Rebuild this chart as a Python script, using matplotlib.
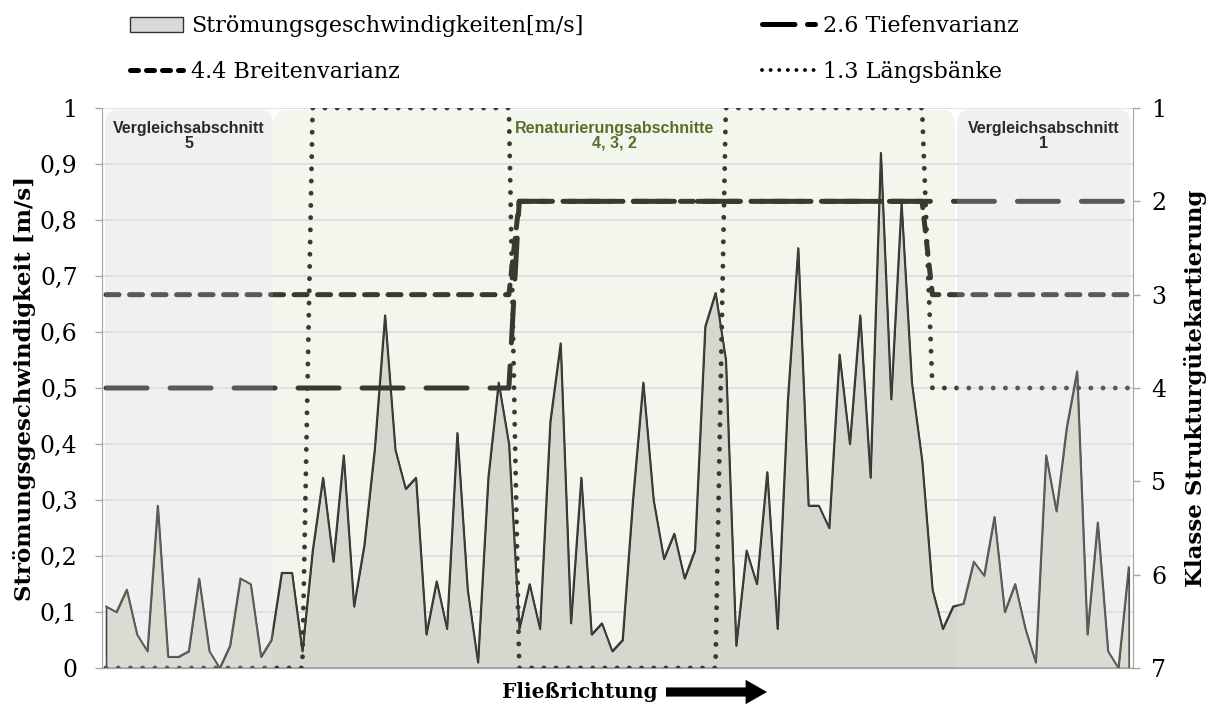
import numpy as np
import matplotlib.pyplot as plt
from matplotlib.patches import FancyBboxPatch, Patch
from matplotlib.lines import Line2D
from matplotlib.transforms import blended_transform_factory


# Strömungsgeschwindigkeiten [m/s], 100 Messpunkte in Fließrichtung
velocity = [
    0.11, 0.10, 0.14, 0.06, 0.03, 0.29, 0.02, 0.02, 0.03, 0.16,
    0.03, 0.00, 0.04, 0.16, 0.15, 0.02, 0.05, 0.17, 0.17, 0.03,
    0.21, 0.34, 0.19, 0.38, 0.11, 0.22, 0.39, 0.63, 0.39, 0.32,
    0.34, 0.06, 0.155, 0.07, 0.42, 0.14, 0.01, 0.34, 0.51, 0.40,
    0.07, 0.15, 0.07, 0.44, 0.58, 0.08, 0.34, 0.06, 0.08, 0.03,
    0.05, 0.30, 0.51, 0.30, 0.195, 0.24, 0.16, 0.21, 0.61, 0.67,
    0.55, 0.04, 0.21, 0.15, 0.35, 0.07, 0.48, 0.75, 0.29, 0.29,
    0.25, 0.56, 0.40, 0.63, 0.34, 0.92, 0.48, 0.83, 0.51, 0.37,
    0.14, 0.07, 0.11, 0.115, 0.19, 0.165, 0.27, 0.10, 0.15, 0.07,
    0.01, 0.38, 0.28, 0.43, 0.53, 0.06, 0.26, 0.03, 0.00, 0.18,
]

# Klassen Strukturgütekartierung je Messpunkt
tiefenvarianz = [4] * 40 + [2] * 60
breitenvarianz = [3] * 40 + [2] * 40 + [3] * 20
laengsbaenke = [7] * 20 + [1] * 20 + [7] * 20 + [1] * 20 + [4] * 20

# Abschnitte (von, bis, Titel)
sections = [
    (-0.1, 16.15, 'Vergleichsabschnitt\n5'),
    (16.2, 82.2, 'Renaturierungsabschnitte\n4, 3, 2'),
    (82.4, 99.2, 'Vergleichsabschnitt\n1'),
]

left_ticks = np.round(np.arange(0, 1.01, 0.1), 1)
right_ticks = [1, 2, 3, 4, 5, 6, 7]

W, H = 1215, 706
line_col = '#383a32'
serif = 'DejaVu Serif'

fig = plt.figure(figsize=(W / 100, H / 100), dpi=100)
ax = fig.add_axes([101.7 / W, 1 - 668 / H, (1133 - 101.7) / W, (668 - 108) / H])
ax2 = ax.twinx()

x = np.arange(len(velocity))
ax.set_xlim(-0.42, len(velocity) - 1 + 0.42)
ax.set_ylim(0, 1)
ax2.set_ylim(7, 1)

# Hintergrund der Abschnitte
aspect = (1 / 560) / (1 / 10.33)
bg_cols = ['#f0f0f0', '#f3f6ec', '#f0f0f0']
for (x0, x1, title), col in zip(sections, bg_cols):
    ax.add_patch(FancyBboxPatch((x0, 0), x1 - x0, 0.997,
                                boxstyle='round,pad=0,rounding_size=1.4',
                                mutation_aspect=aspect, fc=col, ec='none', zorder=0.1))

ax.set_axisbelow(True)
ax.yaxis.grid(True, color='#d9d9d9', lw=1.1)
ax.set_yticks(left_ticks)
ax.set_yticklabels([('%g' % v).replace('.', ',') for v in left_ticks])

ax.fill_between(x, velocity, 0, fc='#d6d8cf', ec='#1c1c1c', lw=1.1, zorder=2)
ax.plot(x, velocity, color='#3d3e38', lw=1.3, zorder=3)

ax2.plot(x, tiefenvarianz, color=line_col, lw=3.6, linestyle=(0, (8.2, 4.6)),
         dash_capstyle='round', zorder=4)
ax2.plot(x, breitenvarianz, color=line_col, lw=3.6, linestyle=(0, (2.6, 2.1)),
         dash_capstyle='round', zorder=4)
ax2.plot(x, laengsbaenke, color=line_col, lw=3.5, linestyle=(0, (0.01, 2.5)),
         dash_capstyle='round', zorder=4)

# graue Vergleichsabschnitte hellen die Linien etwas auf
for (x0, x1, title), col in zip(sections, bg_cols):
    if col == '#f0f0f0':
        ax2.add_patch(FancyBboxPatch((x0, 7), x1 - x0, -5.99,
                                     boxstyle='round,pad=0,rounding_size=1.4',
                                     mutation_aspect=aspect * 6, fc=col, ec='none',
                                     alpha=0.18, zorder=5))

trans = blended_transform_factory(ax.transData, ax.transAxes)
for (x0, x1, title), col in zip(sections, bg_cols):
    ax.text((x0 + x1) / 2, 0.977, title, transform=trans, ha='center', va='top',
            fontsize=11.5, fontweight='bold', family='Liberation Sans',
            color='#5a6e2e' if 'Renat' in title else 'black', linespacing=1.0,
            zorder=6)

ax2.set_yticks(right_ticks)
for a, pad in ((ax, 12), (ax2, 8)):
    a.set_xticks([])
    a.spines['top'].set_visible(False)
    for s in ('left', 'right', 'bottom'):
        a.spines[s].set_color('#a6a6a6')
    a.tick_params(axis='y', direction='out', length=5.3, width=1, color='#a6a6a6',
                  labelsize=17, pad=pad)
    for lab in a.get_yticklabels():
        lab.set_family(serif)

ax.set_ylabel('Strömungsgeschwindigkeit [m/s]', family=serif, fontweight='bold', fontsize=16.5)
ax.yaxis.set_label_coords((36 - 101.7) / 1031.3, 0.5)
ax2.set_ylabel('Klasse Strukturgütekartierung', family=serif, fontweight='bold', fontsize=16.5)
ax2.yaxis.set_label_coords((1184 - 101.7) / 1031.3, 0.5)

fig.text(658 / W, 1 - 692 / H, 'Fließrichtung', ha='right', va='center',
         family=serif, fontweight='bold', fontsize=14.5)
ax.annotate('', xy=(767 / W, 1 - 692 / H), xytext=(666 / W, 1 - 692 / H),
            xycoords='figure fraction', textcoords='figure fraction',
            arrowprops=dict(arrowstyle='simple,head_length=0.7,head_width=0.8,tail_width=0.3',
                            mutation_scale=22, fc='black', ec='black', lw=0,
                            shrinkA=0, shrinkB=0))

# Legende (zwei Spalten)
h_v = Patch(fc='#d9d9d9', ec='#333333', lw=1.0)
h_t = Line2D([], [], color='black', lw=3.6, linestyle=(0, (6.5, 2.5)), dash_capstyle='round')
h_b = Line2D([], [], color='black', lw=3.6, linestyle=(0, (1.6, 1.6)), dash_capstyle='round')
h_l = Line2D([], [], color='black', lw=2.8, linestyle=(0, (0.01, 2.2)), dash_capstyle='round')
leg_kw = dict(loc='upper left', frameon=False, borderaxespad=0, borderpad=0,
              prop={'family': serif, 'size': 16}, handletextpad=0.36,
              labelspacing=1.08, handlelength=2.4, handleheight=0.65)
fig.legend([h_v, h_b], ['Strömungsgeschwindigkeiten[m/s]', '4.4 Breitenvarianz'],
           bbox_to_anchor=(130 / W, 1 - 15 / H), **leg_kw)
fig.legend([h_t, h_l], ['2.6 Tiefenvarianz', '1.3 Längsbänke'],
           bbox_to_anchor=(762 / W, 1 - 15 / H), **leg_kw)

fig.savefig('out.png', dpi=100)
